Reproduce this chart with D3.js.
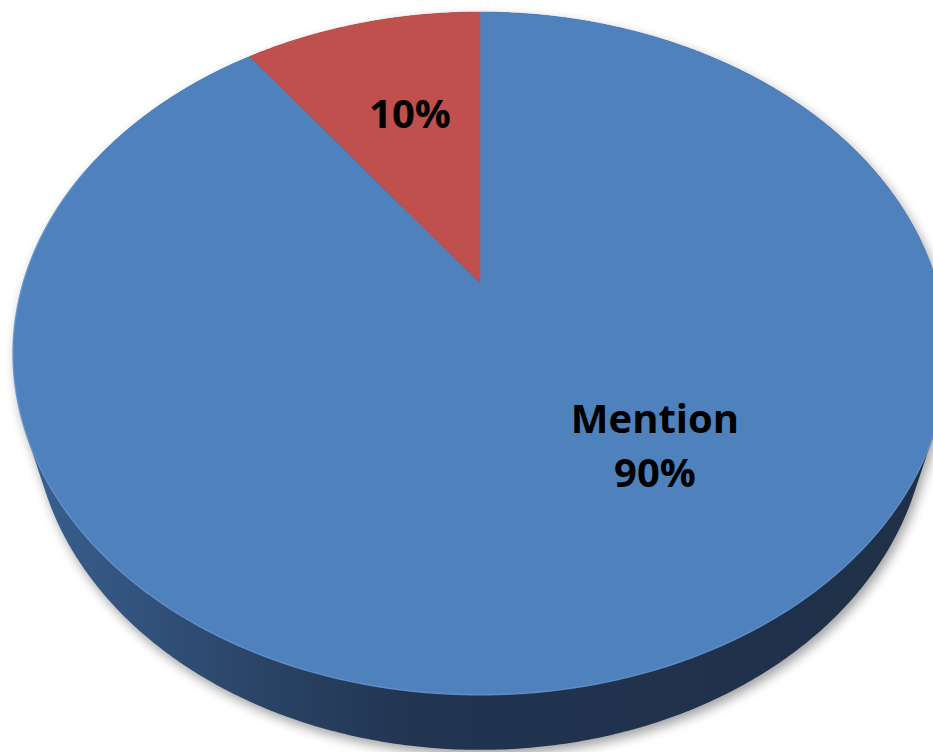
<!DOCTYPE html>
<html>
<head>
<meta charset="utf-8">
<script src="https://cdn.jsdelivr.net/npm/d3@7"></script>
<style>
  html, body { margin: 0; padding: 0; background: #ffffff; }
  svg { display: block; }
</style>
</head>
<body>
<svg id="chart" width="933" height="752"></svg>
<script>
// ---- data ----
const categories = ["Mention", "No mention"];
const values = [90, 10];
const percentLabels = ["90%", "10%"];
const showCategoryName = [true, false];
const sliceColors = ["#4F81BD", "#C0504D"];

// ---- 3D perspective projection ----
const W = 933, H = 752;
const cx = 480, cy = 283;
const F = 1547, Dist = 3.386;
const sa = 0.7154, ca = Math.sqrt(1 - sa * sa);
const thick = 0.198;

function proj(X, Y, Z) {
  const depth = Dist - Y * ca - Z * sa;
  const up = -Y * sa + Z * ca;
  return [cx + F * X / depth, cy - F * up / depth];
}
function rim(t, Z) { return proj(Math.sin(t), -Math.cos(t), Z); }

const svg = d3.select("#chart");
const defs = svg.append("defs");

const grad = defs.append("linearGradient")
  .attr("id", "sideGrad").attr("gradientUnits", "userSpaceOnUse")
  .attr("x1", 0).attr("y1", 0).attr("x2", W).attr("y2", 0);
[[0, "#3D6596"], [0.06, "#375C8A"], [0.28, "#2A4466"], [0.45, "#213450"], [1, "#1F3048"]]
  .forEach(([o, c]) => grad.append("stop").attr("offset", o).attr("stop-color", c));

const blur = defs.append("filter").attr("id", "shadowBlur")
  .attr("x", "-20%").attr("y", "-20%").attr("width", "140%").attr("height", "140%");
blur.append("feGaussianBlur").attr("stdDeviation", 6);

const pie = d3.pie().sort(null).value(d => d);
const arcs = pie(values);
const line = d3.line();

// silhouette hull of the cylinder
const step = Math.PI / 360;
const hullPts = [];
for (let t = 0; t < 2 * Math.PI; t += step) {
  hullPts.push(rim(t, 0));
  hullPts.push(rim(t, -thick));
}
const hull = d3.polygonHull(hullPts);

// shadow
svg.append("path")
  .attr("d", line(hull) + "Z")
  .attr("transform", "translate(3,5)")
  .attr("fill", "#000")
  .attr("opacity", 0.38)
  .attr("filter", "url(#shadowBlur)");

// side wall
svg.append("path")
  .attr("d", line(hull) + "Z")
  .attr("fill", "url(#sideGrad)");

// top face slices
arcs.forEach((a, i) => {
  const pts = [proj(0, 0, 0)];
  const n = Math.max(2, Math.ceil((a.endAngle - a.startAngle) / step));
  for (let k = 0; k <= n; k++) {
    const t = a.startAngle + (a.endAngle - a.startAngle) * k / n;
    pts.push(rim(t, 0));
  }
  svg.append("path")
    .attr("d", line(pts) + "Z")
    .attr("fill", sliceColors[i])
    .attr("stroke", sliceColors[i])
    .attr("stroke-width", 0.6);
});

// light rim highlight on front edge
const hl = [];
for (let t = Math.PI * 0.55; t <= Math.PI * 1.62; t += step) hl.push(rim(t, 0));
svg.append("path")
  .attr("d", line(hl))
  .attr("fill", "none")
  .attr("stroke", "#6A9AD6")
  .attr("stroke-width", 1.4)
  .attr("opacity", 0.7);

// labels
const labelPos = [[655, 433], [410, 128]];
const font = "'Open Sans', 'DejaVu Sans', sans-serif";
arcs.forEach((a, i) => {
  const g = svg.append("text")
    .attr("x", labelPos[i][0]).attr("y", labelPos[i][1])
    .attr("text-anchor", "middle")
    .attr("font-family", font)
    .attr("font-weight", "bold")
    .attr("font-size", 40)
    .attr("fill", "#000");
  if (showCategoryName[i]) {
    g.append("tspan").attr("x", labelPos[i][0]).attr("dy", 0).text(categories[i]);
    g.append("tspan").attr("x", labelPos[i][0]).attr("dy", 54).text(percentLabels[i]);
  } else {
    g.text(percentLabels[i]);
  }
});
</script>
</body>
</html>
